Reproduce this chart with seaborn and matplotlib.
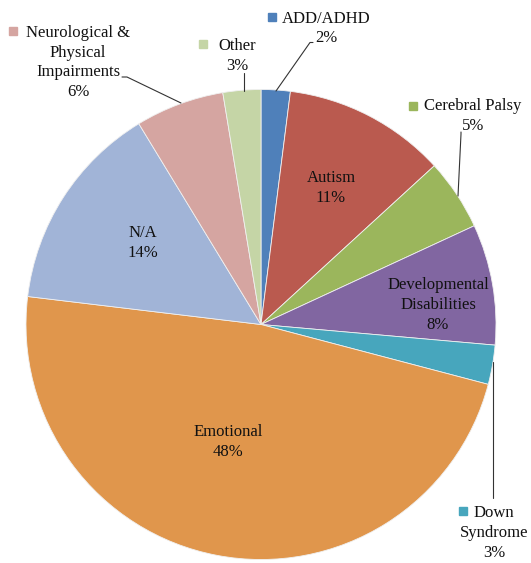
import matplotlib
matplotlib.use("Agg")
import matplotlib.pyplot as plt
import seaborn as sns

# ---- data ----
categories = ["ADD/ADHD", "Autism", "Cerebral Palsy", "Developmental Disabilities",
              "Down Syndrome", "Emotional", "N/A",
              "Neurological & Physical Impairments", "Other"]
values = [2.0, 11.2, 4.9, 8.3, 2.7, 47.8, 14.4, 6.1, 2.6]
display_names = ["ADD/ADHD", "Autism", "Cerebral Palsy", "Developmental\nDisabilities",
                 "Down\nSyndrome", "Emotional", "N/A",
                 "Neurological &\nPhysical\nImpairments", "Other"]
hex_colors = ["#4F80BA", "#BA5A4F", "#9BB65C", "#8166A1", "#47A6BD",
              "#E0964C", "#A1B4D7", "#D5A5A1", "#C5D5A6"]

sns.set_theme(style="white")
plt.rcParams['font.family'] = ['Liberation Serif', 'DejaVu Serif']
palette = sns.color_palette(hex_colors)

W, H = 531, 563
fig = plt.figure(figsize=(W / 100, H / 100), dpi=100)
ax = fig.add_axes([0, 0, 1, 1])

def Y(y):
    return H - y

cx, cy, r = 261, 324.5, 235
ax.pie(values, colors=palette, startangle=90, counterclock=False,
       center=(cx, Y(cy)), radius=r, frame=True,
       wedgeprops=dict(edgecolor="#f0f0f0", linewidth=0.6))
ax.set_xlim(0, W)
ax.set_ylim(0, H)
ax.set_aspect('equal')
ax.axis('off')

pct = [f"{v:.0f}%" for v in values]
fs = 12
tc = "#111111"
ls = 1.32

# inside labels
inside = {1: (331, 188), 3: (438, 305), 5: (228, 442), 6: (143, 243)}
for i, (x, y) in inside.items():
    ax.text(x, Y(y), display_names[i] + "\n" + pct[i], ha="center", va="center",
            fontsize=fs, color=tc, linespacing=ls)

# outside labels with key squares
def outside(i, x, y, kx, ky):
    ax.text(x, Y(y), display_names[i] + "\n" + pct[i], ha="center", va="center",
            fontsize=fs, color=tc, linespacing=ls)
    ax.plot([kx], [Y(ky)], marker="s", markersize=5.5, color=palette[i],
            linestyle="none")

outside(0, 326, 28.5, 271.5, 17)
outside(2, 473, 116, 413, 106)
outside(4, 494, 533, 463, 511)
outside(7, 78, 62.5, 13, 31)
outside(8, 237, 56, 203, 44)

lc = "#333333"
lw = 0.8
ax.plot([313, 310, 276], [Y(42.5), Y(42.5), Y(91)], color=lc, lw=lw)
ax.plot([461, 461, 458], [Y(132), Y(134), Y(196)], color=lc, lw=lw)
ax.plot([493, 493], [Y(362), Y(498)], color=lc, lw=lw)
ax.plot([122, 127, 181], [Y(77), Y(77), Y(103)], color=lc, lw=lw)
ax.plot([244, 244], [Y(73), Y(91)], color=lc, lw=lw)

fig.savefig("out.png", dpi=100, facecolor="white")
